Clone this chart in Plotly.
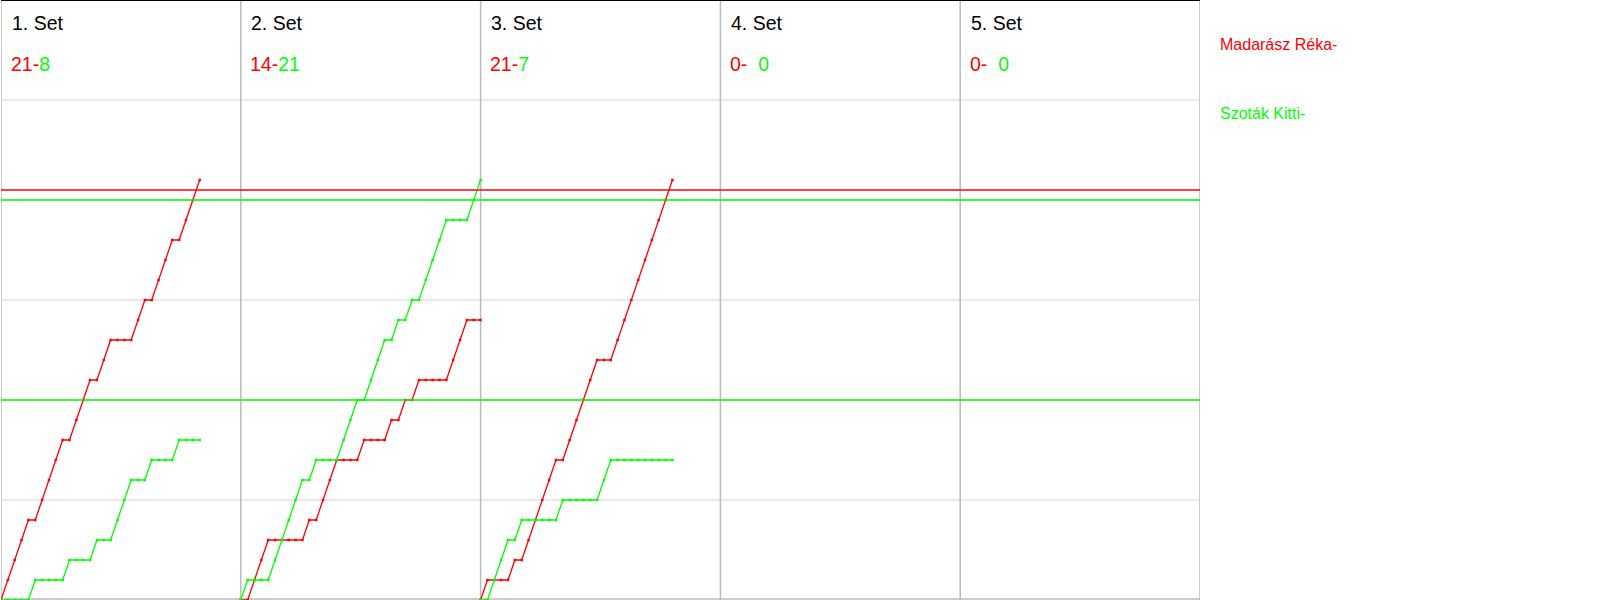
import plotly.graph_objects as go

# ---- data ----
set_labels = ["1. Set", "2. Set", "3. Set", "4. Set", "5. Set"]
red_name = "Madarász Réka-"
green_name = "Szoták Kitti-"
red_final = [21, 14, 21, 0, 0]
green_final = [8, 21, 7, 0, 0]

# cumulative score after each rally (index 0 = 0-0)
red_set1 = [0,1,2,3,4, 4,5,6,7,8, 8,9,10,11, 11,12,13, 13,13,13, 14,15, 15,16,17,18, 18,19,20,21]
green_set1 = [0,0,0,0,0, 1,1,1,1,1, 2,2,2,2, 3,3,3, 4,5,6,6,6, 7,7,7,7, 8,8,8,8]
red_set2 = [0,0,1,2,3, 3,3,3,3,3, 4,4, 5,6,7, 7,7,7, 8,8,8,8, 9,9, 10,10, 11,11,11,11,11, 12,13,14,14,14]
green_set2 = [0,1,1,1,1, 2,3,4,5,6,6, 7,7,7,7, 8,9,10,10, 11,12,13,13, 14,14, 15,15, 16,17,18,19,19,19,19, 20,21]
red_set3 = [0,1,1,1,1, 2,2, 3,4,5,6,7,7, 8,9,10,11,12,12,12, 13,14,15,16,17,18,19,20,21]
green_set3 = [0,0,1,2,3,3, 4,4,4,4,4,4, 5,5,5,5,5,5, 6, 7,7,7,7,7,7,7,7,7,7]

red_sets = [red_set1, red_set2, red_set3, [], []]
green_sets = [green_set1, green_set2, green_set3, [], []]

rallies_per_column = 35
y_max = 30
grid_values = [5, 10, 15, 20, 25]
red_ref_lines = [20.5]
green_ref_lines = [20, 10]

RED = "#ff0000"
GREEN = "#00ff00"

W, H = 1600, 600
ML, MR, MT, MB = 1, 400, 0, 0
PW = W - ML - MR
PH = H - MT - MB


def px_x(px):
    return (px - ML) / PW


def px_y(py):
    return 1 - (py - MT) / PH


fig = go.Figure()

n_sets = len(set_labels)
x_end = rallies_per_column * n_sets

# score traces
for i in range(n_sets):
    off = i * rallies_per_column
    for seq, col in ((red_sets[i], RED), (green_sets[i], GREEN)):
        if not seq:
            continue
        fig.add_trace(go.Scatter(
            x=[off + k for k in range(len(seq))], y=seq,
            mode="lines+markers",
            line=dict(color=col, width=1.3),
            marker=dict(color=col, size=2.5, symbol="square"),
            showlegend=False, hoverinfo="skip",
        ))

shapes = []
# horizontal grid
for g in grid_values:
    shapes.append(dict(type="line", xref="x", yref="y", x0=0, x1=x_end, y0=g, y1=g,
                       line=dict(color="#d3d3d3", width=1), layer="below"))
# column separators
for i in range(n_sets + 1):
    shapes.append(dict(type="line", xref="x", yref="y", x0=i * rallies_per_column,
                       x1=i * rallies_per_column, y0=0, y1=y_max,
                       line=dict(color="#bbbbbb", width=1.5), layer="below"))
# bottom border
shapes.append(dict(type="line", xref="x", yref="y", x0=0, x1=x_end, y0=0.05, y1=0.05,
                   line=dict(color="#bbbbbb", width=1.5), layer="below"))
# top border
shapes.append(dict(type="line", xref="x", yref="y", x0=0, x1=x_end, y0=y_max, y1=y_max,
                   line=dict(color="#000000", width=2), layer="above"))
# reference lines
for v in red_ref_lines:
    shapes.append(dict(type="line", xref="x", yref="y", x0=0, x1=x_end, y0=v, y1=v,
                       line=dict(color=RED, width=1.3), layer="above"))
for v in green_ref_lines:
    shapes.append(dict(type="line", xref="x", yref="y", x0=0, x1=x_end, y0=v, y1=v,
                       line=dict(color=GREEN, width=1.3), layer="above"))

FONT = "Liberation Sans, Arial, sans-serif"
annotations = []
col_px = PW / n_sets
for i in range(n_sets):
    left = ML + i * col_px
    annotations.append(dict(
        x=px_x(left + 8.5), y=px_y(23), xref="paper", yref="paper",
        text=set_labels[i], showarrow=False, xanchor="left", yanchor="middle",
        font=dict(family=FONT, size=19.5, color="#000000"),
    ))
    r, g = red_final[i], green_final[i]
    gap = "\u00a0\u00a0" if g < 10 and r < 10 else ""
    txt = (f"<span style='color:{RED}'>{r}-</span>{gap}"
           f"<span style='color:{GREEN}'>{g}</span>")
    annotations.append(dict(
        x=px_x(left + 7.5), y=px_y(63.5), xref="paper", yref="paper",
        text=txt, showarrow=False, xanchor="left", yanchor="middle",
        font=dict(family=FONT, size=19.5, color=RED),
    ))

annotations.append(dict(
    x=px_x(1218), y=px_y(44), xref="paper", yref="paper", text=red_name,
    showarrow=False, xanchor="left", yanchor="middle",
    font=dict(family=FONT, size=16, color=RED),
))
annotations.append(dict(
    x=px_x(1218), y=px_y(114), xref="paper", yref="paper", text=green_name,
    showarrow=False, xanchor="left", yanchor="middle",
    font=dict(family=FONT, size=16, color=GREEN),
))

fig.update_layout(
    width=W, height=H,
    margin=dict(l=ML, r=MR, t=MT, b=MB, pad=0),
    paper_bgcolor="#ffffff", plot_bgcolor="#ffffff",
    xaxis=dict(range=[0, x_end], showgrid=False, zeroline=False, showticklabels=False,
               showline=False, ticks="", fixedrange=True),
    yaxis=dict(range=[0, y_max], showgrid=False, zeroline=False, showticklabels=False,
               showline=False, ticks="", fixedrange=True),
    shapes=shapes, annotations=annotations,
    showlegend=False,
)

fig.write_html(
    "out.html",
    config={"displayModeBar": False},
    post_script="document.body.style.margin='0';document.body.style.overflow='hidden';",
)
